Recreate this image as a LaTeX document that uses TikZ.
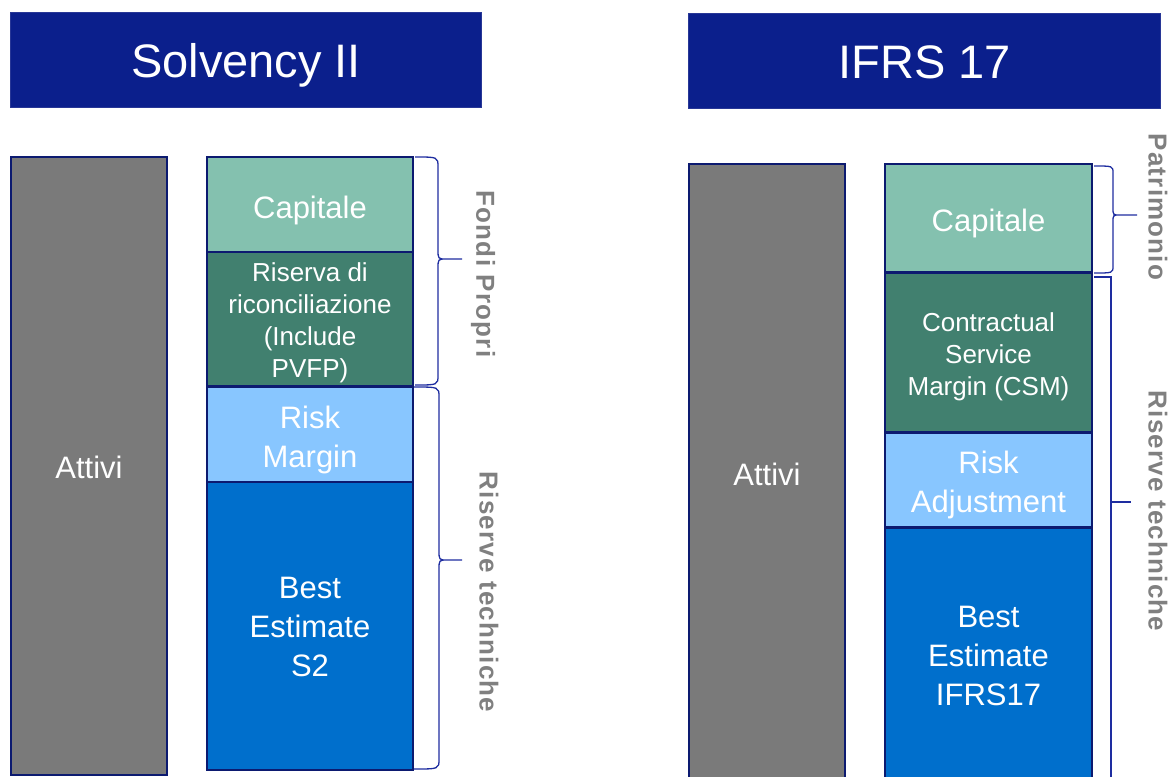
\documentclass[tikz,border=0pt]{standalone}
\usepackage{fontspec}
\setmainfont{Liberation Sans}
\newfontfamily\lblfont[LetterSpace=4.6]{Liberation Sans Bold}
\definecolor{titleblue}{RGB}{11,31,140}
\definecolor{titleedge}{RGB}{40,55,150}
\definecolor{bordercol}{RGB}{12,26,112}
\definecolor{assetgray}{RGB}{122,122,122}
\definecolor{capgreen}{RGB}{132,193,175}
\definecolor{darkgreen}{RGB}{65,128,111}
\definecolor{lightblue}{RGB}{136,198,255}
\definecolor{midblue}{RGB}{0,111,204}
\definecolor{labelgray}{RGB}{128,128,128}
\definecolor{bracecol}{RGB}{30,45,160}
\begin{document}
\begin{tikzpicture}[x=1pt,y=-1pt,
  cell/.style={draw=bordercol, line width=2.5pt, anchor=north west, inner sep=0pt, outer sep=0pt},
  celltxt/.style={text=white, align=center, inner sep=0pt},
  bigtxt/.style={font=\fontsize{31}{39}\selectfont},
  smalltxt/.style={font=\fontsize{26}{32}\selectfont},
  titlebox/.style={draw=titleedge, line width=1.2pt, fill=titleblue, anchor=north west, inner sep=0pt, text=white, text height=34pt, text depth=0pt, font=\fontsize{47}{56}\selectfont},
  side/.style={text=labelgray, font=\lblfont\fontsize{26}{30}\selectfont, rotate=-90, inner sep=0pt},
  bracel/.style={draw=bracecol, line width=1.3pt}]
\useasboundingbox (0,0) rectangle (1174,776);
\clip (0,0) rectangle (1174,776);
% Solvency II
\node[titlebox, minimum width=471pt, minimum height=95pt] (t1) at (10,12) {Solvency II};
\node[cell, fill=assetgray, minimum width=156pt, minimum height=618pt] (a1) at (11,157) {};
\node[cell, fill=capgreen, minimum width=206pt, minimum height=95pt] (c1) at (207,157) {};
\node[cell, fill=darkgreen, minimum width=206pt, minimum height=134pt] (r1) at (207,252) {};
\node[cell, fill=lightblue, minimum width=206pt, minimum height=95pt] (m1) at (207,387) {};
\node[cell, fill=midblue, minimum width=206pt, minimum height=288pt] (b1) at (207,482) {};
\node[celltxt, bigtxt, yshift=-1pt] (a1t) at (a1.center) {Attivi};
\node[celltxt, bigtxt, yshift=-6pt] (c1t) at (c1.center) {Capitale};
\node[celltxt, smalltxt, yshift=-4pt] (r1t) at (r1.center) {Riserva di\\riconciliazione\\(Include\\PVFP)};
\node[celltxt, bigtxt, yshift=-5pt] (m1t) at (m1.center) {Risk\\Margin};
\node[celltxt, bigtxt, yshift=-1pt] (b1t) at (b1.center) {Best\\Estimate\\S2};
% braces left
\draw[bracel] (415,157) .. controls (438,157) .. (438,167) -- (438,249) .. controls (438,259) .. (446,259) -- (462,259)
  (446,259) .. controls (438,259) .. (438,269) -- (438,375) .. controls (438,385) .. (415,385);
\draw[bracel] (414,387) .. controls (439,387) .. (439,397) -- (439,550) .. controls (439,560) .. (447,560) -- (462,560)
  (447,560) .. controls (439,560) .. (439,570) -- (439,759) .. controls (439,769) .. (414,769);
\node[side] (fp) at (483,274) {Fondi Propri};
\node[side] (rt1) at (489,592) {Riserve techniche};
% IFRS 17
\node[titlebox, minimum width=472pt, minimum height=95pt] (t2) at (688,13) {IFRS 17};
\node[cell, fill=assetgray, minimum width=156pt, minimum height=620pt] (a2) at (689,164) {};
\node[cell, fill=capgreen, minimum width=207pt, minimum height=108pt] (c2) at (885,164) {};
\node[cell, fill=darkgreen, minimum width=207pt, minimum height=159pt] (s2) at (885,273) {};
\node[cell, fill=lightblue, minimum width=207pt, minimum height=94pt] (m2) at (885,433) {};
\node[cell, fill=midblue, minimum width=207pt, minimum height=254pt] (b2) at (885,528) {};
\node[celltxt, bigtxt] (a2t) at (a2.center) {Attivi};
\node[celltxt, bigtxt, yshift=-5pt] (c2t) at (c2.center) {Capitale};
\node[celltxt, smalltxt, yshift=-4pt] (s2t) at (s2.center) {Contractual\\Service\\Margin (CSM)};
\node[celltxt, bigtxt, yshift=-5pt] (m2t) at (m2.center) {Risk\\Adjustment};
\node[celltxt, bigtxt, yshift=-1pt] (b2t) at (b2.center) {Best\\Estimate\\IFRS17};
% braces right
\draw[bracel] (1094,166) .. controls (1113,166) .. (1113,173) -- (1113,208) .. controls (1113,215) .. (1120,215) -- (1137,215)
  (1120,215) .. controls (1113,215) .. (1113,222) -- (1113,266) .. controls (1113,273) .. (1094,273);
\draw[bracel] (1094,277) -- (1111,277) -- (1111,780) (1111,502) -- (1131,502);
\node[side] (pat) at (1158,207) {Patrimonio};
\node[side] (rt2) at (1158,511) {Riserve techniche};
\end{tikzpicture}
\end{document}
